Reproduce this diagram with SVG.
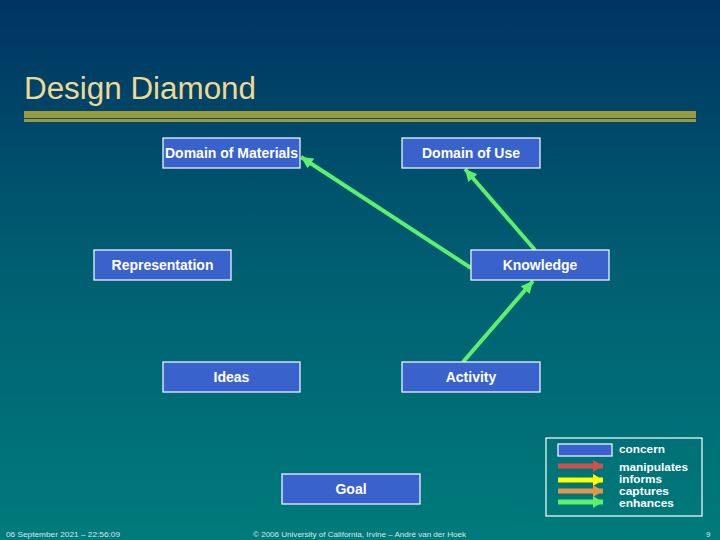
<svg xmlns="http://www.w3.org/2000/svg" width="720" height="540" viewBox="0 0 720 540">
<defs>
<linearGradient id="bg" x1="0" y1="0" x2="0" y2="1">
<stop offset="0" stop-color="#003462"/>
<stop offset="0.5" stop-color="#005f72"/>
<stop offset="1" stop-color="#007b7b"/>
</linearGradient>
<marker id="ahG" markerUnits="userSpaceOnUse" markerWidth="14" markerHeight="14" viewBox="0 0 14 14" refX="12" refY="7" orient="auto">
<path d="M0,1 L12,7 L0,13 Z" fill="#5cf06c"/>
</marker>
<marker id="lhR" markerUnits="userSpaceOnUse" markerWidth="12" markerHeight="14" viewBox="0 0 12 14" refX="10" refY="7" orient="auto"><path d="M0,1 L10,7 L0,13 Z" fill="#d0504e"/></marker>
<marker id="lhY" markerUnits="userSpaceOnUse" markerWidth="12" markerHeight="14" viewBox="0 0 12 14" refX="10" refY="7" orient="auto"><path d="M0,1 L10,7 L0,13 Z" fill="#ffff00"/></marker>
<marker id="lhO" markerUnits="userSpaceOnUse" markerWidth="12" markerHeight="14" viewBox="0 0 12 14" refX="10" refY="7" orient="auto"><path d="M0,1 L10,7 L0,13 Z" fill="#e8944a"/></marker>
<marker id="lhG" markerUnits="userSpaceOnUse" markerWidth="12" markerHeight="14" viewBox="0 0 12 14" refX="10" refY="7" orient="auto"><path d="M0,1 L10,7 L0,13 Z" fill="#5cf06c"/></marker>
</defs>
<style>
.box{fill:#3a62cc;stroke:#ffffff;stroke-width:1.2}
.lbl{font-family:"Liberation Sans",Arial,sans-serif;font-size:14px;font-weight:bold;fill:#ffffff;text-anchor:middle}
.conn{stroke:#5cf06c;stroke-width:4;fill:none;marker-end:url(#ahG)}
.leg{font-family:"Liberation Sans",Arial,sans-serif;font-size:10.5px;font-weight:bold;fill:#ffffff}
.foot{font-family:"Liberation Sans",Arial,sans-serif;font-size:8px;fill:#d8e8e8}
.la{stroke-width:5;fill:none}
</style>
<rect x="0" y="0" width="720" height="540" fill="url(#bg)"/>
<text x="24" y="99" font-family="'Liberation Sans',Arial,sans-serif" font-size="31" fill="#f0d890" textLength="232" lengthAdjust="spacingAndGlyphs">Design Diamond</text>
<rect x="24" y="111" width="672" height="7" fill="#9a9a40"/>
<rect x="24" y="119" width="672" height="3" fill="#9a9a40"/>

<g id="connectors">
<line class="conn" x1="471" y1="268" x2="301" y2="157"/>
<line class="conn" x1="535" y1="250" x2="465" y2="169"/>
<line class="conn" x1="463" y1="362" x2="533" y2="281"/>
</g>

<g id="domain-materials"><rect class="box" x="163" y="138" width="137" height="30"/><text class="lbl" x="231.5" y="158">Domain of Materials</text></g>
<g id="domain-use"><rect class="box" x="402" y="138" width="138" height="30"/><text class="lbl" x="471" y="158">Domain of Use</text></g>
<g id="representation"><rect class="box" x="94" y="250" width="137" height="30"/><text class="lbl" x="162.5" y="270">Representation</text></g>
<g id="knowledge"><rect class="box" x="471" y="250" width="138" height="30"/><text class="lbl" x="540" y="270">Knowledge</text></g>
<g id="ideas"><rect class="box" x="163" y="362" width="137" height="30"/><text class="lbl" x="231.5" y="382">Ideas</text></g>
<g id="activity"><rect class="box" x="402" y="362" width="138" height="30"/><text class="lbl" x="471" y="382">Activity</text></g>
<g id="goal"><rect class="box" x="282" y="474" width="138" height="30"/><text class="lbl" x="351" y="494">Goal</text></g>

<g id="legend">
<rect x="546" y="438" width="156" height="78" fill="none" stroke="#ffffff" stroke-width="1.2"/>
<rect class="box" x="558" y="444" width="54" height="12"/>
<line class="la" x1="558" y1="466" x2="603" y2="466" stroke="#d0504e" marker-end="url(#lhR)"/>
<line class="la" x1="558" y1="480" x2="603" y2="480" stroke="#ffff00" marker-end="url(#lhY)"/>
<line class="la" x1="558" y1="491" x2="603" y2="491" stroke="#e8944a" marker-end="url(#lhO)"/>
<line class="la" x1="558" y1="502" x2="603" y2="502" stroke="#5cf06c" marker-end="url(#lhG)"/>
<text class="leg" x="619" y="453" textLength="46" lengthAdjust="spacingAndGlyphs">concern</text>
<text class="leg" x="619" y="470.5" textLength="69" lengthAdjust="spacingAndGlyphs">manipulates</text>
<text class="leg" x="619" y="482.5" textLength="43" lengthAdjust="spacingAndGlyphs">informs</text>
<text class="leg" x="619" y="494.5" textLength="50" lengthAdjust="spacingAndGlyphs">captures</text>
<text class="leg" x="619" y="506.5" textLength="55" lengthAdjust="spacingAndGlyphs">enhances</text>
</g>

<text class="foot" x="6" y="537" textLength="114" lengthAdjust="spacingAndGlyphs">06 September 2021 – 22:56:09</text>
<text class="foot" x="253" y="537" textLength="213" lengthAdjust="spacingAndGlyphs">© 2006 University of California, Irvine – André van der Hoek</text>
<text class="foot" x="706" y="537">9</text>
</svg>
